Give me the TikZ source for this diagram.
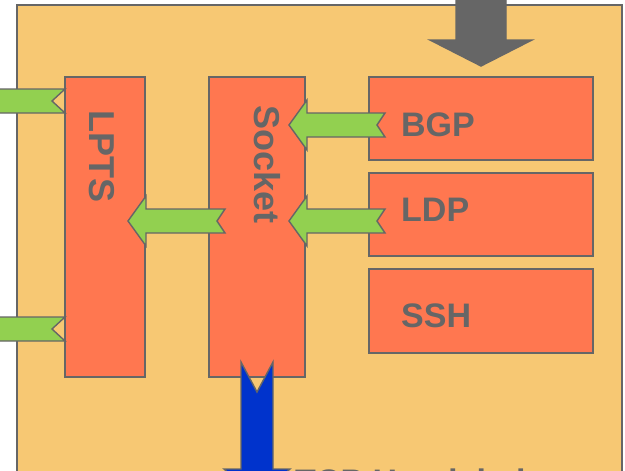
\documentclass[tikz,border=0pt]{standalone}
\usepackage{fontspec}
\setmainfont{Liberation Sans}
\usepackage{xcolor}
\definecolor{panelorange}{RGB}{247,200,115}
\definecolor{boxred}{RGB}{255,119,80}
\definecolor{flowgreen}{RGB}{146,208,80}
\definecolor{flowblue}{RGB}{0,51,204}
\definecolor{edgegray}{RGB}{102,102,102}
\usetikzlibrary{positioning}
\tikzset{
  block/.style={draw=edgegray, fill=boxred, line width=1.6pt, inner sep=0pt, outer sep=0pt},
  lbl/.style={text=edgegray, font=\bfseries\fontsize{34}{34}\selectfont, inner sep=0pt},
  vlbl/.style={lbl, font=\bfseries\fontsize{36}{36}\selectfont, rotate=-90},
  flow/.style={draw=edgegray, line width=1.4pt},
  % length / shaft half width / head half width / head length / notch depth
  pics/blockarrow/.style args={#1/#2/#3/#4/#5}{
    code={\draw[flow, pic actions] (0,#2) -- (#1-#4,#2) -- (#1-#4,#3) -- (#1,0)
      -- (#1-#4,-#3) -- (#1-#4,-#2) -- (0,-#2) -- (#5,0) -- cycle;}},
}

\begin{document}
\begin{tikzpicture}[x=1pt, y=-1pt]

  \clip (0,0) rectangle (625,471);
  \fill[white] (0,0) rectangle (625,471);

  % router panel
  \node[block, fill=panelorange, anchor=north west, minimum width=605pt, minimum height=520pt]
    (router) at (17,5) {};

  % traffic from above
  \pic[fill=edgegray, draw=edgegray, rotate=-90] at (481,-20) {blockarrow=86/25/51/26/0};

  % boxes
  \node[block, anchor=north west, minimum width=80pt, minimum height=300pt] (lpts) at (65,77) {};
  \node[block, minimum width=96pt, minimum height=300pt, right=64pt of lpts] (socket) {};
  \node[block, anchor=north west, minimum width=224pt, minimum height=83pt]
    (bgp) at ([xshift=64pt]socket.north east) {};
  \node[block, minimum width=224pt, minimum height=83pt, below=13pt of bgp] (ldp) {};
  \node[block, minimum width=224pt, minimum height=84pt, below=13pt of ldp] (ssh) {};

  % green flows
  \pic[fill=flowgreen, rotate=180] at ([xshift=16pt, yshift=-6.5pt]bgp.west) {blockarrow=96/12/25/18/8};
  \pic[fill=flowgreen, rotate=180] at ([xshift=16pt, yshift=-6.5pt]ldp.west) {blockarrow=96/12/25/18/8};
  \pic[fill=flowgreen, rotate=180] at ([xshift=16pt, yshift=6pt]socket.west) {blockarrow=97/12/25/18/8};
  \pic[fill=flowgreen, rotate=180] at ([yshift=126pt]lpts.west) {blockarrow=100/12/25/18/13};
  \pic[fill=flowgreen, rotate=180] at ([yshift=-102pt]lpts.west) {blockarrow=100/12/25/18/13};

  % handshake out of the socket
  \pic[fill=flowblue, rotate=-90] at ([yshift=15pt]socket.south) {blockarrow=137/16/33/30/30};

  % labels
  \node[vlbl, anchor=west] (lptslbl) at (102,110) {LPTS};
  \node[vlbl, anchor=west] (socketlbl) at (267,105) {Socket};
  \node[lbl, anchor=west] (bgplbl) at ([xshift=32pt, yshift=-6.5pt]bgp.west) {BGP};
  \node[lbl, anchor=west] (ldplbl) at ([xshift=32pt, yshift=4.5pt]ldp.west) {LDP};
  \node[lbl, anchor=west] (sshlbl) at ([xshift=32pt, yshift=-5pt]ssh.west) {SSH};
  \node[lbl, anchor=base west] (tcplbl) at (295,493) {TCP Handshake};

\end{tikzpicture}
\end{document}
